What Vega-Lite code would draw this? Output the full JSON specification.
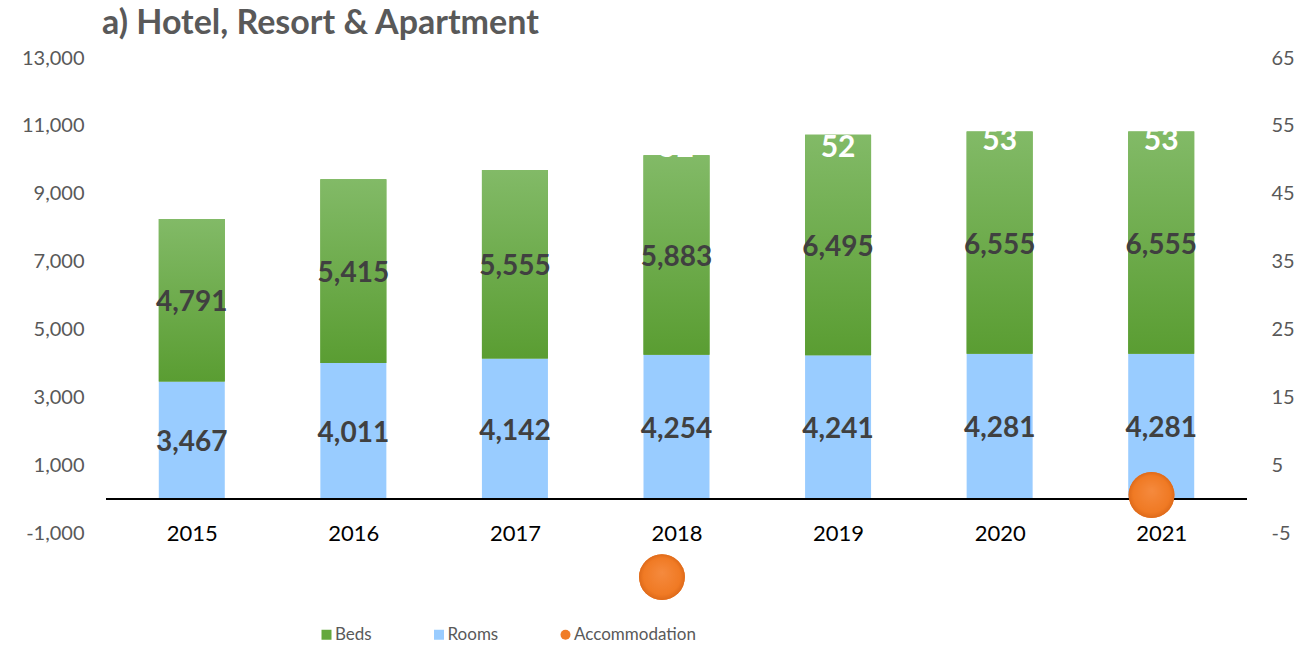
{
  "$schema": "https://vega.github.io/schema/vega-lite/v6.json",
  "width": 1141,
  "height": 475,
  "autosize": {"type": "none"},
  "padding": {"left": 106, "top": 58, "right": 56, "bottom": 112},
  "background": "#ffffff",
  "config": {"font": "Lato", "view": {"stroke": null}},
  "title": {"text": "a) Hotel, Resort & Apartment", "anchor": "start", "frame": "group", "fontSize": 34, "fontWeight": "bold", "color": "#595959", "offset": 7, "dx": -4},
  "datasets": {
    "main": [
      {"Year": 2015, "Rooms": 3467, "Beds": 4791, "Accommodation": 46},
      {"Year": 2016, "Rooms": 4011, "Beds": 5415, "Accommodation": 50},
      {"Year": 2017, "Rooms": 4142, "Beds": 5555, "Accommodation": 51},
      {"Year": 2018, "Rooms": 4254, "Beds": 5883, "Accommodation": 52},
      {"Year": 2019, "Rooms": 4241, "Beds": 6495, "Accommodation": 52},
      {"Year": 2020, "Rooms": 4281, "Beds": 6555, "Accommodation": 53},
      {"Year": 2021, "Rooms": 4281, "Beds": 6555, "Accommodation": 53}
    ],
    "markers": [
      {"Year": 2017.91, "Accommodation": -11.5, "Series": "Accommodation"},
      {"Year": 2020.94, "Accommodation": 0.6, "Series": "Accommodation"}
    ]
  },
  "layer": [
    {
      "data": {"name": "main"},
      "transform": [
        {"fold": ["Rooms", "Beds"], "as": ["Series", "Value"]},
        {"stack": "Value", "groupby": ["Year"], "sort": [{"field": "Series", "order": "descending"}], "as": ["v0", "v1"]}
      ],
      "layer": [
        {
          "mark": {"type": "bar", "size": 66},
          "encoding": {
            "x": {"field": "Year", "type": "quantitative", "scale": {"domain": [2014.5, 2021.5], "nice": false, "zero": false},
                  "axis": {"values": [2015, 2016, 2017, 2018, 2019, 2020, 2021], "labelExpr": "format(datum.value, 'd')", "labelFontSize": 22, "labelColor": "#000000", "domain": false, "ticks": false, "grid": false, "title": null, "labelBaseline": "middle", "labelPadding": 0, "labelFlush": false, "labelOverlap": false}},
            "y": {"field": "v1", "type": "quantitative", "scale": {"domain": [-1000, 13000], "nice": false, "zero": false},
                  "axis": {"values": [-1000, 1000, 3000, 5000, 7000, 9000, 11000, 13000], "labelExpr": "replace(format(datum.value, ','), '\u2212', '-')", "labelFontSize": 20, "labelColor": "#595959", "domain": false, "ticks": false, "grid": false, "title": null, "labelPadding": 22, "labelFlush": false, "labelOverlap": false}},
            "y2": {"field": "v0"},
            "color": {"field": "Series", "type": "nominal",
                      "scale": {"domain": ["Beds", "Rooms", "Accommodation"], "range": ["#64A83D", "#99CCFF", "#F07C27"]},
                      "legend": {"orient": "none", "legendX": 212, "legendY": 568, "direction": "horizontal", "title": null, "labelFontSize": 17, "labelColor": "#595959", "symbolSize": 100, "columnPadding": 58.5, "labelOffset": 0, "padding": 0, "symbolStrokeWidth": 0,
                                 "encode": {"symbols": {"update": {"shape": {"signal": "datum.value === 'Accommodation' ? 'circle' : 'square'"}}}}}}
          }
        },
        {
          "transform": [{"filter": "datum.Series === 'Beds'"}],
          "mark": {"type": "bar", "size": 66, "color": {"gradient": "linear", "x1": 0, "y1": 0, "x2": 0, "y2": 1, "stops": [{"offset": 0, "color": "#82BA67"}, {"offset": 1, "color": "#5A9D32"}]}},
          "encoding": {
            "x": {"field": "Year", "type": "quantitative"},
            "y": {"field": "v1", "type": "quantitative"},
            "y2": {"field": "v0"}
          }
        },
        {
          "mark": {"type": "rule", "color": "#000000", "strokeWidth": 2},
          "encoding": {"y": {"datum": 0, "type": "quantitative"}}
        },
        {
          "mark": {"type": "text", "fontSize": 28, "fontWeight": "bold", "color": "#404040", "baseline": "middle", "dy": 3},
          "encoding": {
            "x": {"field": "Year", "type": "quantitative"},
            "y": {"field": "Value", "type": "quantitative", "stack": "zero", "bandPosition": 0.5},
            "order": {"field": "Series", "sort": "descending"},
            "text": {"field": "Value", "type": "quantitative", "format": ","}
          }
        }
      ]
    },
    {
      "layer": [
        {
          "data": {"name": "main"},
          "mark": {"type": "text", "fontSize": 30, "fontWeight": "bold", "color": "#ffffff", "baseline": "middle", "dy": 2},
          "encoding": {
            "x": {"field": "Year", "type": "quantitative"},
            "y": {"field": "Accommodation", "type": "quantitative", "scale": {"domain": [-5, 65], "nice": false, "zero": false},
                  "axis": {"orient": "right", "values": [-5, 5, 15, 25, 35, 45, 55, 65], "labelExpr": "replace(format(datum.value, 'd'), '\u2212', '-')", "labelFontSize": 20, "labelColor": "#595959", "domain": false, "ticks": false, "grid": false, "title": null, "labelPadding": 24, "labelFlush": false, "labelOverlap": false}},
            "text": {"field": "Accommodation", "type": "quantitative"}
          }
        },
        {
          "data": {"name": "markers"},
          "mark": {"type": "point", "filled": true, "size": 2100, "opacity": 1, "shape": "circle"},
          "encoding": {
            "x": {"field": "Year", "type": "quantitative"},
            "y": {"field": "Accommodation", "type": "quantitative"},
            "color": {"field": "Series", "type": "nominal"}
          }
        },
        {
          "data": {"name": "markers"},
          "mark": {"type": "point", "filled": true, "size": 2100, "opacity": 1, "shape": "circle",
                   "color": {"gradient": "radial", "x1": 0.5, "y1": 0.4, "r1": 0, "x2": 0.5, "y2": 0.5, "r2": 0.5, "stops": [{"offset": 0, "color": "#F58A3E"}, {"offset": 0.8, "color": "#F07A24"}, {"offset": 1, "color": "#DE6A1A"}]}},
          "encoding": {
            "x": {"field": "Year", "type": "quantitative"},
            "y": {"field": "Accommodation", "type": "quantitative"}
          }
        }
      ]
    }
  ],
  "resolve": {"scale": {"y": "independent"}, "axis": {"y": "independent"}}
}
